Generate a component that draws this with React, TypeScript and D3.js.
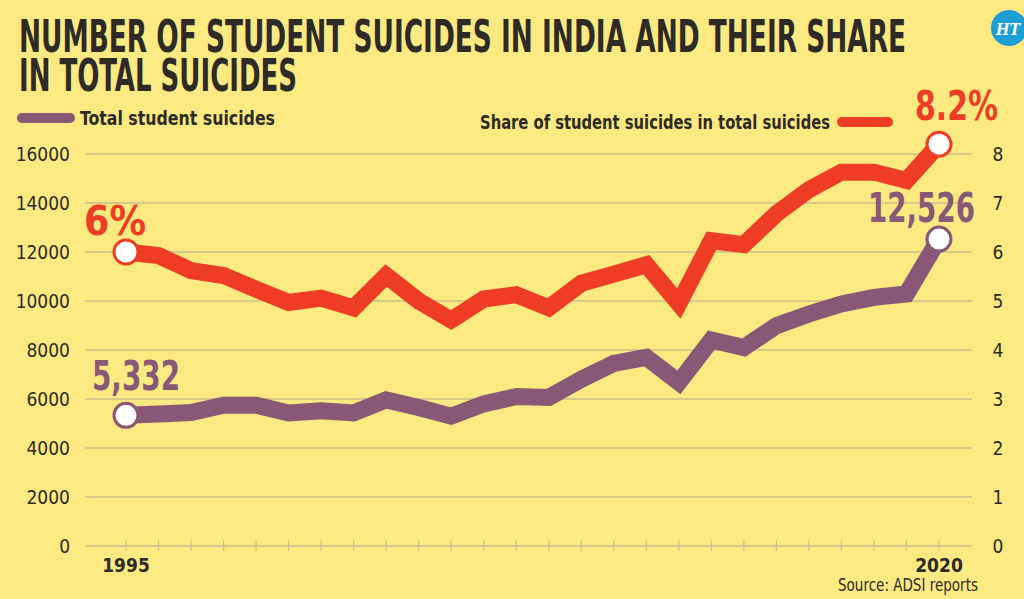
import * as React from "react";
import * as d3 from "d3";

// ADSI data
const years: number[] = d3.range(1995, 2021);
const studentSuicides: number[] = [
  5332, 5390, 5450, 5750, 5750, 5430, 5520, 5430, 5960, 5650, 5300, 5800, 6100,
  6060, 6800, 7450, 7700, 6680, 8410, 8100, 8990, 9470, 9880, 10150, 10290, 12526,
];
const shareOfTotal: number[] = [
  6.0, 5.93, 5.62, 5.52, 5.24, 4.97, 5.06, 4.86, 5.52, 5.0, 4.61, 5.04, 5.13,
  4.86, 5.36, 5.55, 5.74, 4.95, 6.23, 6.15, 6.78, 7.27, 7.63, 7.63, 7.46, 8.2,
];
const leftTicks: number[] = [0, 2000, 4000, 6000, 8000, 10000, 12000, 14000, 16000];
const rightTicks: number[] = [0, 1, 2, 3, 4, 5, 6, 7, 8];
const yearLabels: number[] = [1995, 2020];

const titleLines = ["NUMBER OF STUDENT SUICIDES IN INDIA AND THEIR SHARE", "IN TOTAL SUICIDES"];

const W = 1024, H = 599;
const bg = "#fbe981";
const purple = "#8a5877";
const red = "#ee3c25";
const ink = "#2e2b26";
const grid = "#c8bf8e";
const cond = "'DejaVu Sans Condensed', 'Liberation Sans Narrow', 'Noto Sans', sans-serif";

export default function App() {
  const x = d3.scaleLinear().domain([1995, 2020]).range([126, 939]);
  const yL = d3.scaleLinear().domain([0, 16000]).range([546, 154]);
  const yR = d3.scaleLinear().domain([0, 8]).range([546, 154]);

  const lineL = d3.line<number>().x((_, i) => x(years[i])).y(d => yL(d));
  const lineR = d3.line<number>().x((_, i) => x(years[i])).y(d => yR(d));

  const last = years.length - 1;

  return (
    <svg width={W} height={H} style={{ position: "absolute", left: 0, top: 0, display: "block" }}>
      <rect width={W} height={H} fill={bg} />

      {/* title */}
      <text x={19} y={52} fontFamily={cond} fontWeight="bold" fontSize={44} fill={ink}
        textLength={887} lengthAdjust="spacingAndGlyphs">{titleLines[0]}</text>
      <text x={19} y={91} fontFamily={cond} fontWeight="bold" fontSize={44} fill={ink}
        textLength={278} lengthAdjust="spacingAndGlyphs">{titleLines[1]}</text>

      {/* HT logo */}
      <circle cx={1009} cy={28} r={18} fill="#1d9fd6" />
      <text x={1008} y={35} textAnchor="middle" fontFamily="'DejaVu Serif', serif" fontStyle="italic"
        fontWeight="bold" fontSize={17} fill="#fff" textLength={24} lengthAdjust="spacingAndGlyphs">HT</text>

      {/* legends */}
      <line x1={22} x2={70} y1={118} y2={118} stroke={purple} strokeWidth={10} strokeLinecap="round" />
      <text x={80} y={125} fontFamily={cond} fontWeight="bold" fontSize={20} fill={ink}
        textLength={195} lengthAdjust="spacingAndGlyphs">Total student suicides</text>
      <text x={480} y={129} fontFamily={cond} fontWeight="bold" fontSize={20} fill={ink}
        textLength={350} lengthAdjust="spacingAndGlyphs">Share of student suicides in total suicides</text>
      <line x1={842} x2={888} y1={122} y2={122} stroke={red} strokeWidth={10} strokeLinecap="round" />

      {/* grid + axes */}
      {leftTicks.map(t => (
        <g key={"l" + t}>
          <line x1={85} x2={972} y1={yL(t)} y2={yL(t)} stroke={grid} strokeWidth={1.5} />
          <text x={70} y={yL(t) + 7} textAnchor="end" fontFamily={cond} fontSize={19} fill={ink}>{t}</text>
        </g>
      ))}
      {rightTicks.map(t => (
        <text key={"r" + t} x={998} y={yR(t) + 7} textAnchor="middle" fontFamily={cond} fontSize={19} fill={ink}>{t}</text>
      ))}
      {years.map(yr => (
        <line key={"t" + yr} x1={x(yr)} x2={x(yr)} y1={540} y2={551} stroke={grid} strokeWidth={1.2} />
      ))}
      {yearLabels.map(yr => (
        <text key={"y" + yr} x={x(yr)} y={572} textAnchor="middle" fontFamily={cond} fontWeight="bold"
          fontSize={19} fill={ink}>{yr}</text>
      ))}
      <text x={978} y={591} textAnchor="end" fontFamily={cond} fontSize={17} fill={ink}
        textLength={140} lengthAdjust="spacingAndGlyphs">Source: ADSI reports</text>

      {/* lines */}
      <path d={lineR(shareOfTotal) || ""} fill="none" stroke={red} strokeWidth={17} strokeLinejoin="miter" />
      <path d={lineL(studentSuicides) || ""} fill="none" stroke={purple} strokeWidth={17} strokeLinejoin="miter" />

      {/* end markers */}
      {[0, last].map(i => (
        <g key={"m" + i}>
          <circle cx={x(years[i])} cy={yR(shareOfTotal[i])} r={12} fill="#fff" stroke={red} strokeWidth={3} />
          <circle cx={x(years[i])} cy={yL(studentSuicides[i])} r={12} fill="#fff" stroke={purple} strokeWidth={3} />
        </g>
      ))}

      {/* value labels */}
      <text x={84} y={235} fontFamily={cond} fontWeight="bold" fontSize={40} fill={red}
        textLength={62} lengthAdjust="spacingAndGlyphs">{d3.format(".0f")(shareOfTotal[0]) + "%"}</text>
      <text x={92} y={390} fontFamily={cond} fontWeight="bold" fontSize={40} fill={purple}
        textLength={88} lengthAdjust="spacingAndGlyphs">{d3.format(",")(studentSuicides[0])}</text>
      <text x={915} y={120} fontFamily={cond} fontWeight="bold" fontSize={40} fill={red}
        textLength={83} lengthAdjust="spacingAndGlyphs">{d3.format(".1f")(shareOfTotal[last]) + "%"}</text>
      <text x={868} y={222} fontFamily={cond} fontWeight="bold" fontSize={40} fill={purple}
        textLength={107} lengthAdjust="spacingAndGlyphs">{d3.format(",")(studentSuicides[last])}</text>
    </svg>
  );
}
